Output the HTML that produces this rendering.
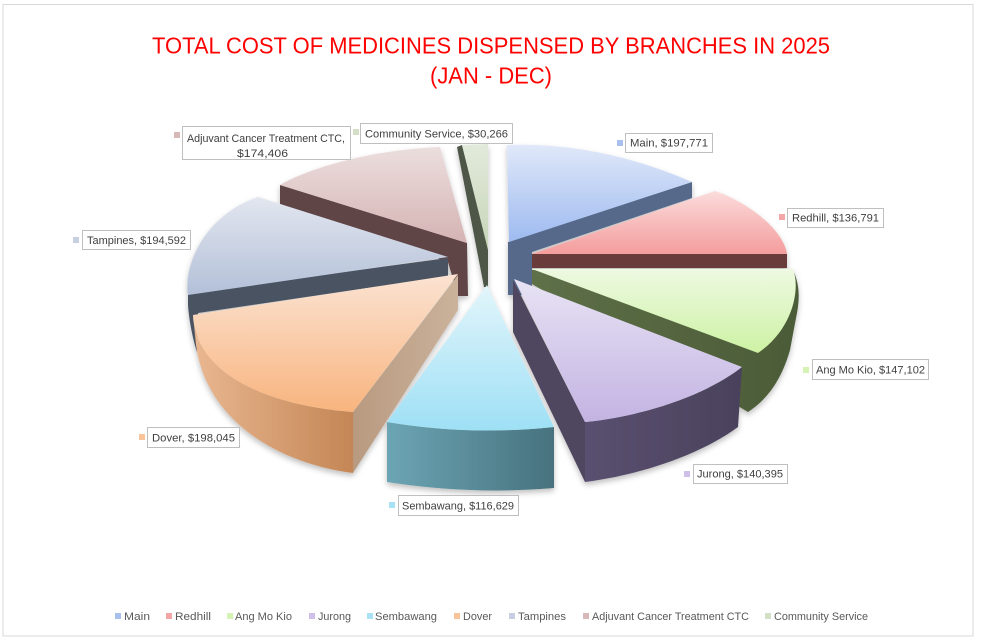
<!DOCTYPE html>
<html><head><meta charset="utf-8">
<style>
html,body{margin:0;padding:0;background:#fff;}
svg{display:block;}
text{font-family:"Liberation Sans",Arial,sans-serif;}
</style></head>
<body>
<svg width="982" height="642" viewBox="0 0 982 642" xmlns="http://www.w3.org/2000/svg">
<defs>
  <filter id="sh" x="-10%" y="-10%" width="120%" height="130%">
    <feDropShadow dx="0" dy="3" stdDeviation="3" flood-color="#000" flood-opacity="0.25"/>
  </filter>
  <linearGradient id="gMain" x1="0" y1="0" x2="0" y2="1"><stop offset="0" stop-color="#e0e8f9"/><stop offset="1" stop-color="#9dbaf0"/></linearGradient>
  <linearGradient id="gRed" x1="0" y1="0" x2="0" y2="1"><stop offset="0" stop-color="#fbdcdc"/><stop offset="1" stop-color="#f49c9c"/></linearGradient>
  <linearGradient id="gAmk" x1="0" y1="0" x2="0" y2="1"><stop offset="0" stop-color="#eef9e2"/><stop offset="1" stop-color="#cdf2a4"/></linearGradient>
  <linearGradient id="gJur" x1="0" y1="0" x2="0" y2="1"><stop offset="0" stop-color="#e8e3f4"/><stop offset="1" stop-color="#c3b3e2"/></linearGradient>
  <linearGradient id="gSem" x1="0" y1="0" x2="0" y2="1"><stop offset="0" stop-color="#e2f5fb"/><stop offset="1" stop-color="#9ee0f5"/></linearGradient>
  <linearGradient id="gDov" x1="0" y1="0" x2="0" y2="1"><stop offset="0" stop-color="#fbe3d2"/><stop offset="1" stop-color="#f8b47e"/></linearGradient>
  <linearGradient id="gTam" x1="0" y1="0" x2="0" y2="1"><stop offset="0" stop-color="#e2e6ef"/><stop offset="1" stop-color="#b3c0d8"/></linearGradient>
  <linearGradient id="gAct" x1="0" y1="0" x2="0" y2="1"><stop offset="0" stop-color="#ecdede"/><stop offset="1" stop-color="#d5b3b3"/></linearGradient>
  <linearGradient id="gCs" x1="0" y1="0" x2="0" y2="1"><stop offset="0" stop-color="#e2eadb"/><stop offset="1" stop-color="#c8d5b8"/></linearGradient>
  <linearGradient id="sSem" x1="0" y1="0" x2="1" y2="0"><stop offset="0" stop-color="#6ca5b4"/><stop offset="1" stop-color="#47727e"/></linearGradient>
  <linearGradient id="sDov" x1="0" y1="0" x2="1" y2="0"><stop offset="0" stop-color="#e9b791"/><stop offset="1" stop-color="#c48655"/></linearGradient>
  <linearGradient id="sDovCut" x1="0" y1="0" x2="1" y2="0"><stop offset="0" stop-color="#b89a80"/><stop offset="1" stop-color="#cbb29b"/></linearGradient>
  <linearGradient id="sJur" x1="0" y1="0" x2="1" y2="0"><stop offset="0" stop-color="#5a5070"/><stop offset="1" stop-color="#4a425c"/></linearGradient>
  <linearGradient id="sAmk" x1="0" y1="0" x2="1" y2="0"><stop offset="0" stop-color="#5e7048"/><stop offset="1" stop-color="#4b5b37"/></linearGradient>
</defs>

<rect x="3" y="4.5" width="970" height="631.5" fill="#fff" stroke="#d9d9d9" stroke-width="1"/>

<text x="152" y="53.3" font-size="23.3" fill="#f00" textLength="678" lengthAdjust="spacingAndGlyphs">TOTAL COST OF MEDICINES DISPENSED BY BRANCHES IN 2025</text>
<text x="430" y="83.5" font-size="23.3" fill="#f00" textLength="122" lengthAdjust="spacingAndGlyphs">(JAN - DEC)</text>

<g filter="url(#sh)">
  <!-- Main -->
  <path d="M692,182 L692,198 L532,252 L532,295 L508,295 L508,242 Z" fill="#56698b"/>
  <path d="M507,145 Q600,142 692,182 L509,242 Z" fill="url(#gMain)"/>
  <!-- Community Service -->
  <path d="M457,147 L462,145 L488,248 L488,287 L484,287 Z" fill="#4e5747"/>
  <path d="M462,145 L488,144 L488,250 Z" fill="url(#gCs)"/>
  <!-- ACT -->
  <path d="M280,185 L467,243 L468,296 L458,296 L448,262 L280,204 Z" fill="#5e4545"/>
  <path d="M467,243 L280,185 C310,168 370,150 440,147 Z" fill="url(#gAct)"/>
  <!-- Redhill -->
  <path d="M532,254 L787,254 L787,268 L532,268 Z" fill="#6b3b3b"/>
  <path d="M532,254 L715,191 C745,201 783,228 787,254 Z" fill="url(#gRed)"/>
  <!-- Tampines -->
  <path d="M188,293 L448,258 L448,276 L198,313 L197,352 C193,340 189,320 188,305 Z" fill="#4a5262"/>
  <path d="M448,257 L188,295 C183,265 205,215 258,197 Z" fill="url(#gTam)"/>
  <!-- Ang Mo Kio -->
  <path d="M532,270 L793,270 C800,285 800,300 796,318 L790,350 C783,375 770,398 748,412 L532,284 Z" fill="url(#sAmk)"/>
  <path d="M532,269 L793,269 C801,290 792,330 758,353 Z" fill="url(#gAmk)"/>
  <!-- Dover -->
  <path d="M193,315 C195,370 260,405 353,412 L353,473 C270,462 205,415 196,345 Z" fill="url(#sDov)"/>
  <path d="M458,275 L458,310 L353,473 L353,412 Z" fill="url(#sDovCut)"/>
  <path d="M458,274 L193,315 C195,370 260,405 353,412 Z" fill="url(#gDov)"/>
  <!-- Jurong -->
  <path d="M513,280 L585,422 L585,482 L513,332 Z" fill="#4f475f"/>
  <path d="M585,422 C630,418 700,400 742,367 L738,427 C700,455 640,475 585,482 Z" fill="url(#sJur)"/>
  <path d="M514,279 L742,367 C700,400 630,418 585,422 Z" fill="url(#gJur)"/>
  <!-- Sembawang -->
  <path d="M387,422 Q470,436 554,427 L554,488 Q470,495 387,482 Z" fill="url(#sSem)"/>
  <path d="M487,285 L554,427 Q470,436 387,422 Z" fill="url(#gSem)"/>
</g>

<!-- Data labels -->
<g font-size="11" fill="#404040">
  <rect x="625.5" y="133.5" width="87" height="19" fill="#fff" stroke="#bfbfbf"/>
  <rect x="617" y="140" width="6" height="6" fill="#a7c0ee"/>
  <text x="630" y="146.5" textLength="78" lengthAdjust="spacingAndGlyphs">Main,  $197,771</text>

  <rect x="787.5" y="208.5" width="96" height="19" fill="#fff" stroke="#bfbfbf"/>
  <rect x="779" y="214" width="6" height="6" fill="#f4a6a6"/>
  <text x="792" y="221.5" textLength="87" lengthAdjust="spacingAndGlyphs">Redhill,  $136,791</text>

  <rect x="812.5" y="359.5" width="116" height="20" fill="#fff" stroke="#bfbfbf"/>
  <rect x="803" y="367" width="6" height="6" fill="#d5f3b3"/>
  <text x="816" y="373.5" textLength="109" lengthAdjust="spacingAndGlyphs">Ang Mo Kio,  $147,102</text>

  <rect x="693.5" y="464.5" width="94" height="19" fill="#fff" stroke="#bfbfbf"/>
  <rect x="684" y="471" width="6" height="6" fill="#cec0e8"/>
  <text x="697" y="477.5" textLength="86" lengthAdjust="spacingAndGlyphs">Jurong,  $140,395</text>

  <rect x="398.5" y="495.5" width="120" height="20" fill="#fff" stroke="#bfbfbf"/>
  <rect x="389" y="502" width="6" height="6" fill="#a8e2f4"/>
  <text x="402" y="509.5" textLength="112" lengthAdjust="spacingAndGlyphs">Sembawang,  $116,629</text>

  <rect x="147.5" y="427.5" width="92" height="20" fill="#fff" stroke="#bfbfbf"/>
  <rect x="139" y="434" width="6" height="6" fill="#f9c49a"/>
  <text x="152" y="441.5" textLength="83" lengthAdjust="spacingAndGlyphs">Dover,  $198,045</text>

  <rect x="82.5" y="230.5" width="108" height="19" fill="#fff" stroke="#bfbfbf"/>
  <rect x="73" y="237" width="6" height="6" fill="#c8cfe0"/>
  <text x="87" y="244" textLength="99" lengthAdjust="spacingAndGlyphs">Tampines,  $194,592</text>

  <rect x="182.5" y="126.5" width="168" height="33" fill="#fff" stroke="#bfbfbf"/>
  <rect x="174" y="132" width="6" height="6" fill="#d8b8b8"/>
  <text x="187" y="142" textLength="158" lengthAdjust="spacingAndGlyphs">Adjuvant Cancer Treatment CTC,</text>
  <text x="237" y="157" textLength="51" lengthAdjust="spacingAndGlyphs">$174,406</text>

  <rect x="360.5" y="123.5" width="152" height="20" fill="#fff" stroke="#bfbfbf"/>
  <rect x="353" y="129" width="6" height="6" fill="#d5dfc6"/>
  <text x="365" y="137.5" textLength="143" lengthAdjust="spacingAndGlyphs">Community Service,  $30,266</text>
</g>

<!-- Legend -->
<g font-size="11" fill="#595959">
  <rect x="115" y="613" width="6" height="6" fill="#a7c0ee"/>
  <text x="124" y="620" textLength="26" lengthAdjust="spacingAndGlyphs">Main</text>
  <rect x="166" y="613" width="6" height="6" fill="#f4a6a6"/>
  <text x="175" y="620" textLength="36" lengthAdjust="spacingAndGlyphs">Redhill</text>
  <rect x="227" y="613" width="6" height="6" fill="#d5f3b3"/>
  <text x="235" y="620" textLength="57" lengthAdjust="spacingAndGlyphs">Ang Mo Kio</text>
  <rect x="309" y="613" width="6" height="6" fill="#cec0e8"/>
  <text x="318" y="620" textLength="33" lengthAdjust="spacingAndGlyphs">Jurong</text>
  <rect x="367" y="613" width="6" height="6" fill="#a8e2f4"/>
  <text x="375" y="620" textLength="62" lengthAdjust="spacingAndGlyphs">Sembawang</text>
  <rect x="454" y="613" width="6" height="6" fill="#f9c49a"/>
  <text x="463" y="620" textLength="29" lengthAdjust="spacingAndGlyphs">Dover</text>
  <rect x="509" y="613" width="6" height="6" fill="#c8cfe0"/>
  <text x="518" y="620" textLength="48" lengthAdjust="spacingAndGlyphs">Tampines</text>
  <rect x="583" y="613" width="6" height="6" fill="#d8b8b8"/>
  <text x="592" y="620" textLength="157" lengthAdjust="spacingAndGlyphs">Adjuvant Cancer Treatment CTC</text>
  <rect x="765" y="613" width="6" height="6" fill="#d5dfc6"/>
  <text x="774" y="620" textLength="94" lengthAdjust="spacingAndGlyphs">Community Service</text>
</g>
</svg>
</body></html>
